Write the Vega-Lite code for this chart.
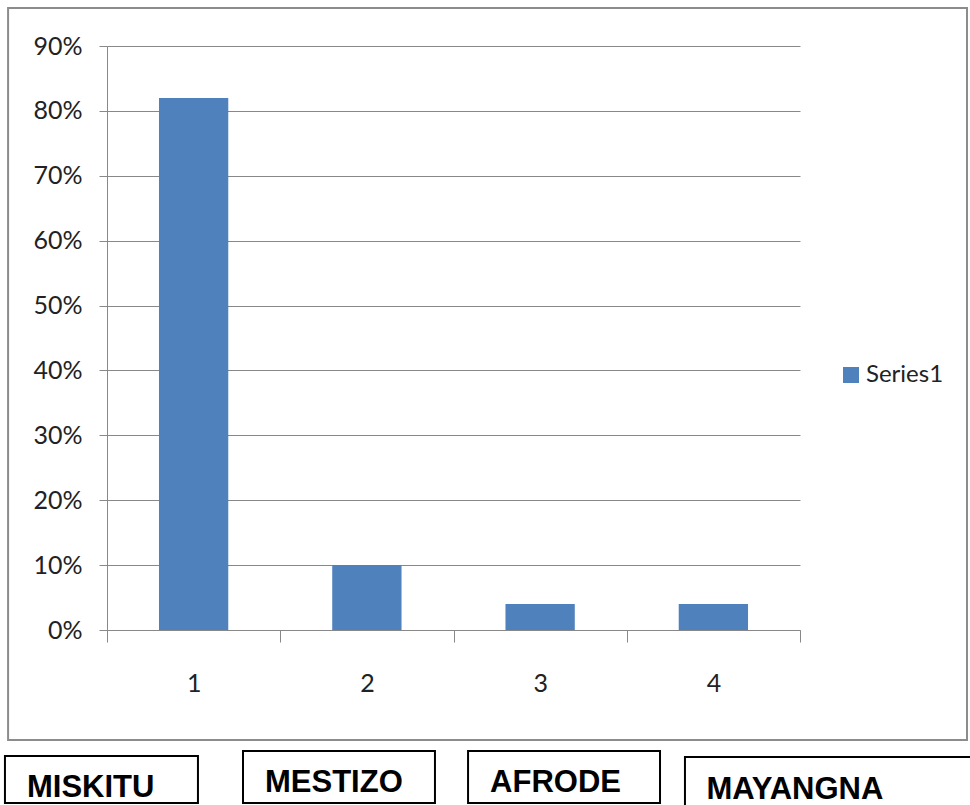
{
  "$schema": "https://vega.github.io/schema/vega-lite/v6.json",
  "width": 693,
  "height": 584,
  "autosize": "none",
  "padding": {"left": 107, "top": 46, "right": 170, "bottom": 175},
  "background": "white",
  "config": {
    "view": {"stroke": null},
    "axis": {
      "labelFont": "Lato",
      "labelColor": "#222222",
      "domainColor": "#888888",
      "tickColor": "#888888",
      "gridColor": "#888888",
      "domainWidth": 1,
      "tickWidth": 1,
      "gridWidth": 1
    }
  },
  "datasets": {
    "bars": [
      {"category": "1", "share": 0.82, "series": "Series1"},
      {"category": "2", "share": 0.10, "series": "Series1"},
      {"category": "3", "share": 0.04, "series": "Series1"},
      {"category": "4", "share": 0.04, "series": "Series1"}
    ],
    "frame": [
      {"left": -0.071, "right": 5.464, "top": 0.9585, "bottom": -0.1695}
    ],
    "boxes": [
      {"label": "MISKITU", "left": -0.089, "right": 1.025, "top": -0.1942, "bottom": -0.2666, "textX": 0.038, "textY": -0.2574},
      {"label": "MESTIZO", "left": 1.285, "right": 2.393, "top": -0.1865, "bottom": -0.2666, "textX": 1.412, "textY": -0.2497},
      {"label": "AFRODE", "left": 2.584, "right": 3.692, "top": -0.1865, "bottom": -0.2666, "textX": 2.711, "textY": -0.2497},
      {"label": "MAYANGNA", "left": 3.836, "right": 6.0, "top": -0.1957, "bottom": -0.285, "textX": 3.96, "textY": -0.2605}
    ]
  },
  "layer": [
    {
      "data": {"name": "frame"},
      "mark": {"type": "rect", "fill": null, "stroke": "#8c8c8c", "strokeWidth": 2, "clip": false},
      "encoding": {
        "x": {"field": "left", "type": "quantitative", "scale": {"domain": [0.5, 4.5]}, "axis": null},
        "x2": {"field": "right"},
        "y": {"field": "top", "type": "quantitative", "scale": {"domain": [0, 0.9]}, "axis": null},
        "y2": {"field": "bottom"}
      }
    },
    {
      "data": {"name": "bars"},
      "mark": {"type": "bar", "color": "#4F81BD", "width": {"band": 0.4}},
      "encoding": {
        "x": {
          "field": "category",
          "type": "nominal",
          "scale": {"paddingInner": 0, "paddingOuter": 0},
          "axis": {
            "title": null,
            "labelAngle": 0,
            "tickBand": "extent",
            "tickSize": 12,
            "labelPadding": 29,
            "labelFontSize": 25,
            "grid": false
          }
        },
        "y": {
          "field": "share",
          "type": "quantitative",
          "scale": {"domain": [0, 0.9], "nice": false},
          "axis": {
            "title": null,
            "format": ".0%",
            "values": [0, 0.1, 0.2, 0.3, 0.4, 0.5, 0.6, 0.7, 0.8, 0.9],
            "tickSize": 8,
            "labelPadding": 17,
            "labelFontSize": 25,
            "grid": true
          }
        },
        "color": {
          "field": "series",
          "type": "nominal",
          "scale": {"range": ["#4F81BD"]},
          "legend": {
            "title": null,
            "orient": "none",
            "legendX": 732,
            "legendY": 317,
            "padding": 0,
            "symbolType": "square",
            "symbolSize": 256,
            "symbolStrokeWidth": 0,
            "labelFont": "Lato",
            "labelFontSize": 24,
            "labelColor": "#222222",
            "labelOffset": 3
          }
        }
      }
    },
    {
      "data": {"name": "boxes"},
      "mark": {"type": "rect", "fill": "white", "stroke": "black", "strokeWidth": 2, "clip": false},
      "encoding": {
        "x": {"field": "left", "type": "quantitative", "scale": {"domain": [0.5, 4.5]}, "axis": null},
        "x2": {"field": "right"},
        "y": {"field": "top", "type": "quantitative", "scale": {"domain": [0, 0.9]}, "axis": null},
        "y2": {"field": "bottom"}
      }
    },
    {
      "data": {"name": "boxes"},
      "mark": {"type": "text", "font": "Liberation Sans", "fontWeight": "bold", "fontSize": 31, "color": "black", "align": "left", "baseline": "alphabetic", "clip": false},
      "encoding": {
        "x": {"field": "textX", "type": "quantitative", "scale": {"domain": [0.5, 4.5]}, "axis": null},
        "y": {"field": "textY", "type": "quantitative", "scale": {"domain": [0, 0.9]}, "axis": null},
        "text": {"field": "label"}
      }
    }
  ],
  "resolve": {"scale": {"x": "independent", "y": "independent"}}
}
